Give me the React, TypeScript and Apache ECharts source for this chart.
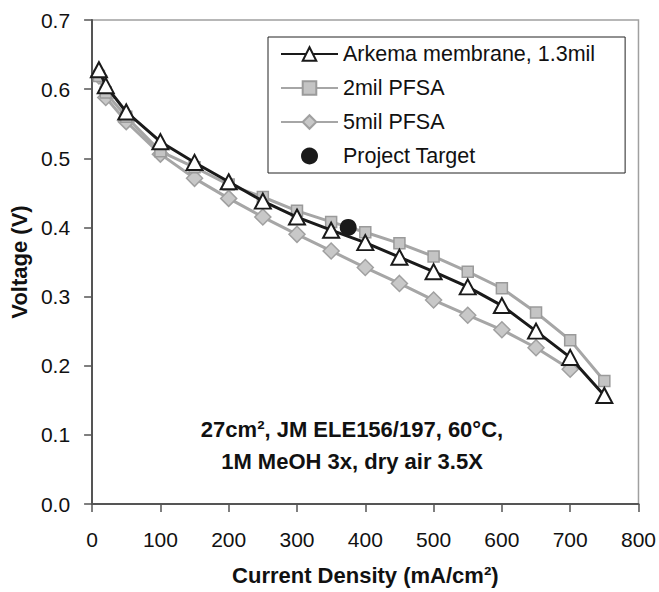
import React, { useEffect, useRef } from "react";
import * as echarts from "echarts";

const currentDensity = [10, 20, 50, 100, 150, 200, 250, 300, 350, 400, 450, 500, 550, 600, 650, 700, 750];
const arkema = [0.628, 0.605, 0.567, 0.524, 0.494, 0.466, 0.438, 0.415, 0.396, 0.378, 0.357, 0.336, 0.314, 0.287, 0.25, 0.212, 0.157];
const pfsa2 = [0.619, 0.595, 0.56, 0.51, 0.487, 0.462, 0.444, 0.424, 0.408, 0.393, 0.377, 0.358, 0.336, 0.312, 0.277, 0.237, 0.178];
const pfsa5 = [0.619, 0.588, 0.553, 0.506, 0.471, 0.442, 0.415, 0.39, 0.366, 0.342, 0.319, 0.295, 0.273, 0.252, 0.226, 0.195];
const target = [[375, 0.4]];
const seriesNames = ["Arkema membrane, 1.3mil", "2mil PFSA", "5mil PFSA", "Project Target"];
const annotation = ["27cm², JM ELE156/197, 60°C,", "1M MeOH 3x, dry air 3.5X"];

const FONT = "'Liberation Sans', Arial, sans-serif";

function pair(xs: number[], ys: number[]) {
  return ys.map((y, i) => [xs[i], y]);
}

export default function App() {
  const ref = useRef<HTMLDivElement>(null);
  useEffect(() => {
    if (!ref.current) return;
    const chart = echarts.init(ref.current, undefined, { renderer: "svg" });
    chart.setOption({
      animation: false,
      backgroundColor: "#ffffff",
      textStyle: { fontFamily: FONT },
      grid: {
        left: 90, top: 20, right: 17, bottom: 88,
        show: true, borderColor: "#a0a0a0", borderWidth: 1.5,
      },
      legend: {
        orient: "vertical",
        left: 268, top: 37,
        padding: [6, 30, 6, 12],
        itemWidth: 57, itemHeight: 17, itemGap: 12,
        borderColor: "#222", borderWidth: 1,
        backgroundColor: "#fff",
        textStyle: { fontFamily: FONT, fontSize: 21.5, color: "#111" },
        data: seriesNames,
      },
      xAxis: {
        type: "value", min: 0, max: 800, interval: 100,
        name: "Current Density (mA/cm²)", nameLocation: "middle", nameGap: 60,
        nameTextStyle: { fontFamily: FONT, fontSize: 22, fontWeight: "bold", color: "#111" },
        axisLine: { show: true, lineStyle: { color: "#555", width: 2 } },
        axisTick: { show: true, inside: false, length: 8, lineStyle: { color: "#555", width: 1.5 } },
        axisLabel: { fontFamily: FONT, fontSize: 21, color: "#111", margin: 25 },
        splitLine: { show: false },
      },
      yAxis: {
        type: "value", min: 0, max: 0.7, interval: 0.1,
        name: "Voltage (V)", nameLocation: "middle", nameGap: 46,
        nameTextStyle: { fontFamily: FONT, fontSize: 22, fontWeight: "bold", color: "#111" },
        axisLine: { show: true, lineStyle: { color: "#555", width: 2 } },
        axisTick: { show: true, inside: false, length: 8, lineStyle: { color: "#555", width: 1.5 } },
        axisLabel: { fontFamily: FONT, fontSize: 21, color: "#111", margin: 22, formatter: (v: number) => v.toFixed(1) },
        splitLine: { show: false },
      },
      series: [
        {
          name: seriesNames[0], type: "line", data: pair(currentDensity, arkema), z: 4,
          lineStyle: { color: "#1a1a1a", width: 3 },
          symbol: "triangle", symbolSize: [16, 15],
          itemStyle: { color: "#ffffff", borderColor: "#1a1a1a", borderWidth: 2 },
        },
        {
          name: seriesNames[1], type: "line", data: pair(currentDensity, pfsa2), z: 3,
          lineStyle: { color: "#a6a6a6", width: 3 },
          symbol: "rect", symbolSize: 11,
          itemStyle: { color: "#c4c4c4", borderColor: "#9a9a9a", borderWidth: 1.5 },
        },
        {
          name: seriesNames[2], type: "line", data: pair(currentDensity, pfsa5), z: 2,
          lineStyle: { color: "#a6a6a6", width: 3 },
          symbol: "diamond", symbolSize: 16,
          itemStyle: { color: "#c8c8c8", borderColor: "#a0a0a0", borderWidth: 1.5 },
        },
        {
          name: seriesNames[3], type: "scatter", data: target, z: 5,
          symbol: "circle", symbolSize: 17,
          itemStyle: { color: "#1a1a1a", opacity: 1 },
        },
      ],
      graphic: [
        {
          type: "text", x: 352, y: 413, z: 10,
          style: {
            text: annotation.join("\n"), fontFamily: FONT, fontSize: 22, fontWeight: "bold",
            fill: "#111", align: "center", verticalAlign: "top", lineHeight: 32,
          },
        },
      ],
    });
    return () => chart.dispose();
  }, []);
  return <div ref={ref} style={{ width: 659, height: 592, position: "absolute", left: 0, top: 0 }} />;
}
